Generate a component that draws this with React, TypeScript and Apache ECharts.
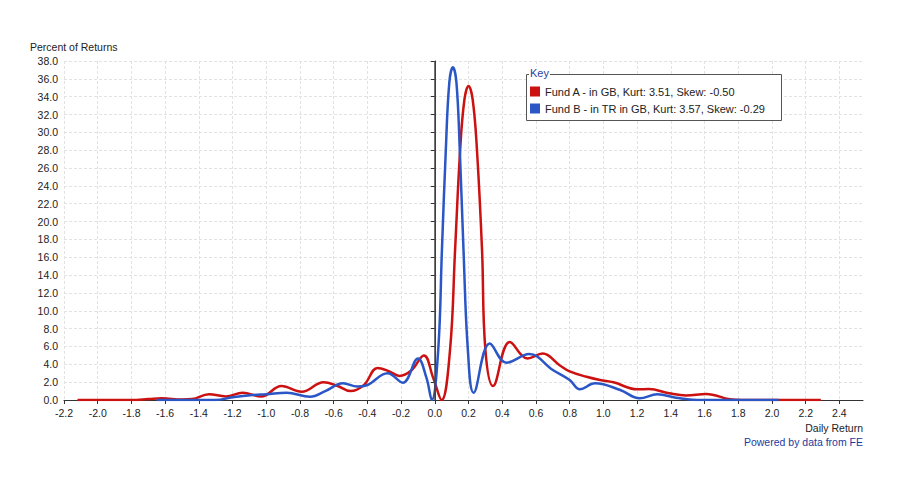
import React, { useEffect, useRef } from "react";
import * as echarts from "echarts";

const fundAName = "Fund A - in GB, Kurt: 3.51, Skew: -0.50";
const fundBName = "Fund B - in TR in GB, Kurt: 3.57, Skew: -0.29";

const fundAReturns = [
  -2.12, -1.9, -1.8, -1.7, -1.62, -1.5, -1.44, -1.34, -1.24, -1.14, -1.03, -0.91, -0.79, -0.66,
  -0.58, -0.5, -0.42, -0.34, -0.27, -0.21, -0.14, -0.065, -0.01, 0.04, 0.09, 0.12, 0.15, 0.175,
  0.2, 0.225, 0.25, 0.28, 0.3, 0.345, 0.445, 0.55, 0.64, 0.74, 0.8, 0.9, 0.98, 1.06, 1.2, 1.27,
  1.39, 1.49, 1.61, 1.75, 1.82, 2.0, 2.29,
];
const fundAPercent = [
  0, 0, 0, 0.1, 0.2, 0.05, 0.1, 0.65, 0.4, 0.8, 0.4, 1.57, 0.93, 2.0,
  1.6, 1.0, 1.7, 3.6, 3.2, 2.7, 3.3, 5.0, 2.5, 0, 5.6, 16.8, 28, 33.6,
  35.2, 33.6, 28, 16.8, 5.6, 1.57, 6.5, 4.66, 5.2, 3.9, 3.2, 2.6, 2.24, 1.98, 1.2, 1.23,
  0.75, 0.5, 0.67, 0.08, 0, 0, 0,
];

const fundBReturns = [
  -1.65, -1.5, -1.3, -1.2, -1.08, -1.0, -0.88, -0.74, -0.65, -0.545, -0.46, -0.4, -0.28, -0.19,
  -0.1, -0.05, -0.018, 0.02, 0.042, 0.065, 0.086, 0.107, 0.128, 0.148, 0.17, 0.196, 0.23, 0.326,
  0.425, 0.56, 0.7, 0.8, 0.86, 0.95, 1.1, 1.215, 1.32, 1.43, 1.55, 1.8, 2.04,
];
const fundBPercent = [
  0, 0, 0, 0.3, 0.56, 0.65, 0.82, 0.37, 1.0, 1.87, 1.5, 1.68, 3.0, 1.94,
  4.66, 2.5, 0, 5.6, 16.8, 28, 35.6, 37.3, 35.6, 28, 16.8, 5.6, 0.82, 6.34,
  4.18, 5.15, 3.36, 2.24, 1.2, 1.87, 1.12, 0.19, 0.64, 0.26, 0, 0, 0,
];

const xTicks = [
  -2.2, -2.0, -1.8, -1.6, -1.4, -1.2, -1.0, -0.8, -0.6, -0.4, -0.2, 0, 0.2, 0.4, 0.6, 0.8, 1.0,
  1.2, 1.4, 1.6, 1.8, 2.0, 2.2, 2.4,
];

const FONT = "'Liberation Sans', Arial, sans-serif";
const RED = "#cc1111";
const BLUE = "#2a56c6";

export default function App() {
  const ref = useRef<HTMLDivElement>(null);

  useEffect(() => {
    if (!ref.current) return;
    const chart = echarts.init(ref.current, null, { renderer: "svg" });
    const zip = (xs: number[], ys: number[]) => xs.map((x, i) => [x, ys[i]]);

    chart.setOption({
      animation: false,
      backgroundColor: "#fff",
      textStyle: { fontFamily: FONT },
      grid: { left: 64, right: 37, top: 61, bottom: 100, containLabel: false },
      legend: {
        orient: "vertical",
        left: 530,
        top: 86,
        itemWidth: 10,
        itemHeight: 10,
        itemGap: 6,
        icon: "rect",
        padding: 0,
        textStyle: { fontSize: 11, color: "#222", fontFamily: FONT },
        data: [fundAName, fundBName],
        z: 5,
      },
      xAxis: {
        type: "value",
        min: -2.2,
        max: 2.54,
        interval: 0.2,
        axisLine: { onZero: false, lineStyle: { color: "#333", width: 1 } },
        axisTick: { show: true, length: 4, lineStyle: { color: "#333" }, customValues: xTicks },
        axisLabel: {
          customValues: xTicks,
          fontSize: 10.5,
          color: "#222",
          margin: 7,
          formatter: (v: number) => v.toFixed(1),
        },
        splitLine: { show: true, lineStyle: { color: "#e2e2e2", type: [3, 2] } },
      },
      yAxis: {
        type: "value",
        min: 0,
        max: 38,
        interval: 2,
        axisLine: { show: true, lineStyle: { color: "#333", width: 1 } },
        axisTick: { show: true, length: 4, lineStyle: { color: "#333" } },
        axisLabel: {
          fontSize: 10.5,
          color: "#222",
          margin: 6,
          formatter: (v: number) => v.toFixed(1),
        },
        splitLine: { show: true, lineStyle: { color: "#e2e2e2", type: [3, 2] } },
      },
      graphic: [
        {
          type: "rect",
          shape: { x: 526.5, y: 74.5, width: 255, height: 46 },
          style: { fill: "#fff", stroke: "#555", lineWidth: 1 },
          z: 3,
        },
        {
          type: "text",
          x: 529,
          y: 67,
          style: {
            text: "Key",
            fill: "#2a3fa0",
            font: `11px ${FONT}`,
            backgroundColor: "#fff",
            padding: [0, 1],
          },
          z: 4,
        },
        {
          type: "text",
          x: 30,
          y: 41,
          style: { text: "Percent of Returns", fill: "#222", font: `10.5px ${FONT}` },
        },
        {
          type: "text",
          x: 863,
          y: 422,
          style: { text: "Daily Return", fill: "#222", font: `10.5px ${FONT}`, align: "right" },
        },
        {
          type: "text",
          x: 863,
          y: 436,
          style: {
            text: "Powered by data from FE",
            fill: "#1d3a9e",
            font: `10.5px ${FONT}`,
            align: "right",
          },
        },
      ],
      series: [
        {
          name: fundAName,
          type: "line",
          data: zip(fundAReturns, fundAPercent),
          smooth: 0.4,
          showSymbol: false,
          lineStyle: { color: RED, width: 2.5 },
          itemStyle: { color: RED },
          z: 3,
          markLine: {
            silent: true,
            symbol: ["none", "none"],
            label: { show: false },
            lineStyle: { color: "#444", width: 1.5, type: "solid" },
            data: [{ xAxis: 0 }],
          },
        },
        {
          name: fundBName,
          type: "line",
          data: zip(fundBReturns, fundBPercent),
          smooth: 0.4,
          showSymbol: false,
          lineStyle: { color: BLUE, width: 2.5 },
          itemStyle: { color: BLUE },
          z: 4,
        },
      ],
    });
    return () => chart.dispose();
  }, []);

  return <div ref={ref} style={{ width: 900, height: 500, margin: -8 }} />;
}
